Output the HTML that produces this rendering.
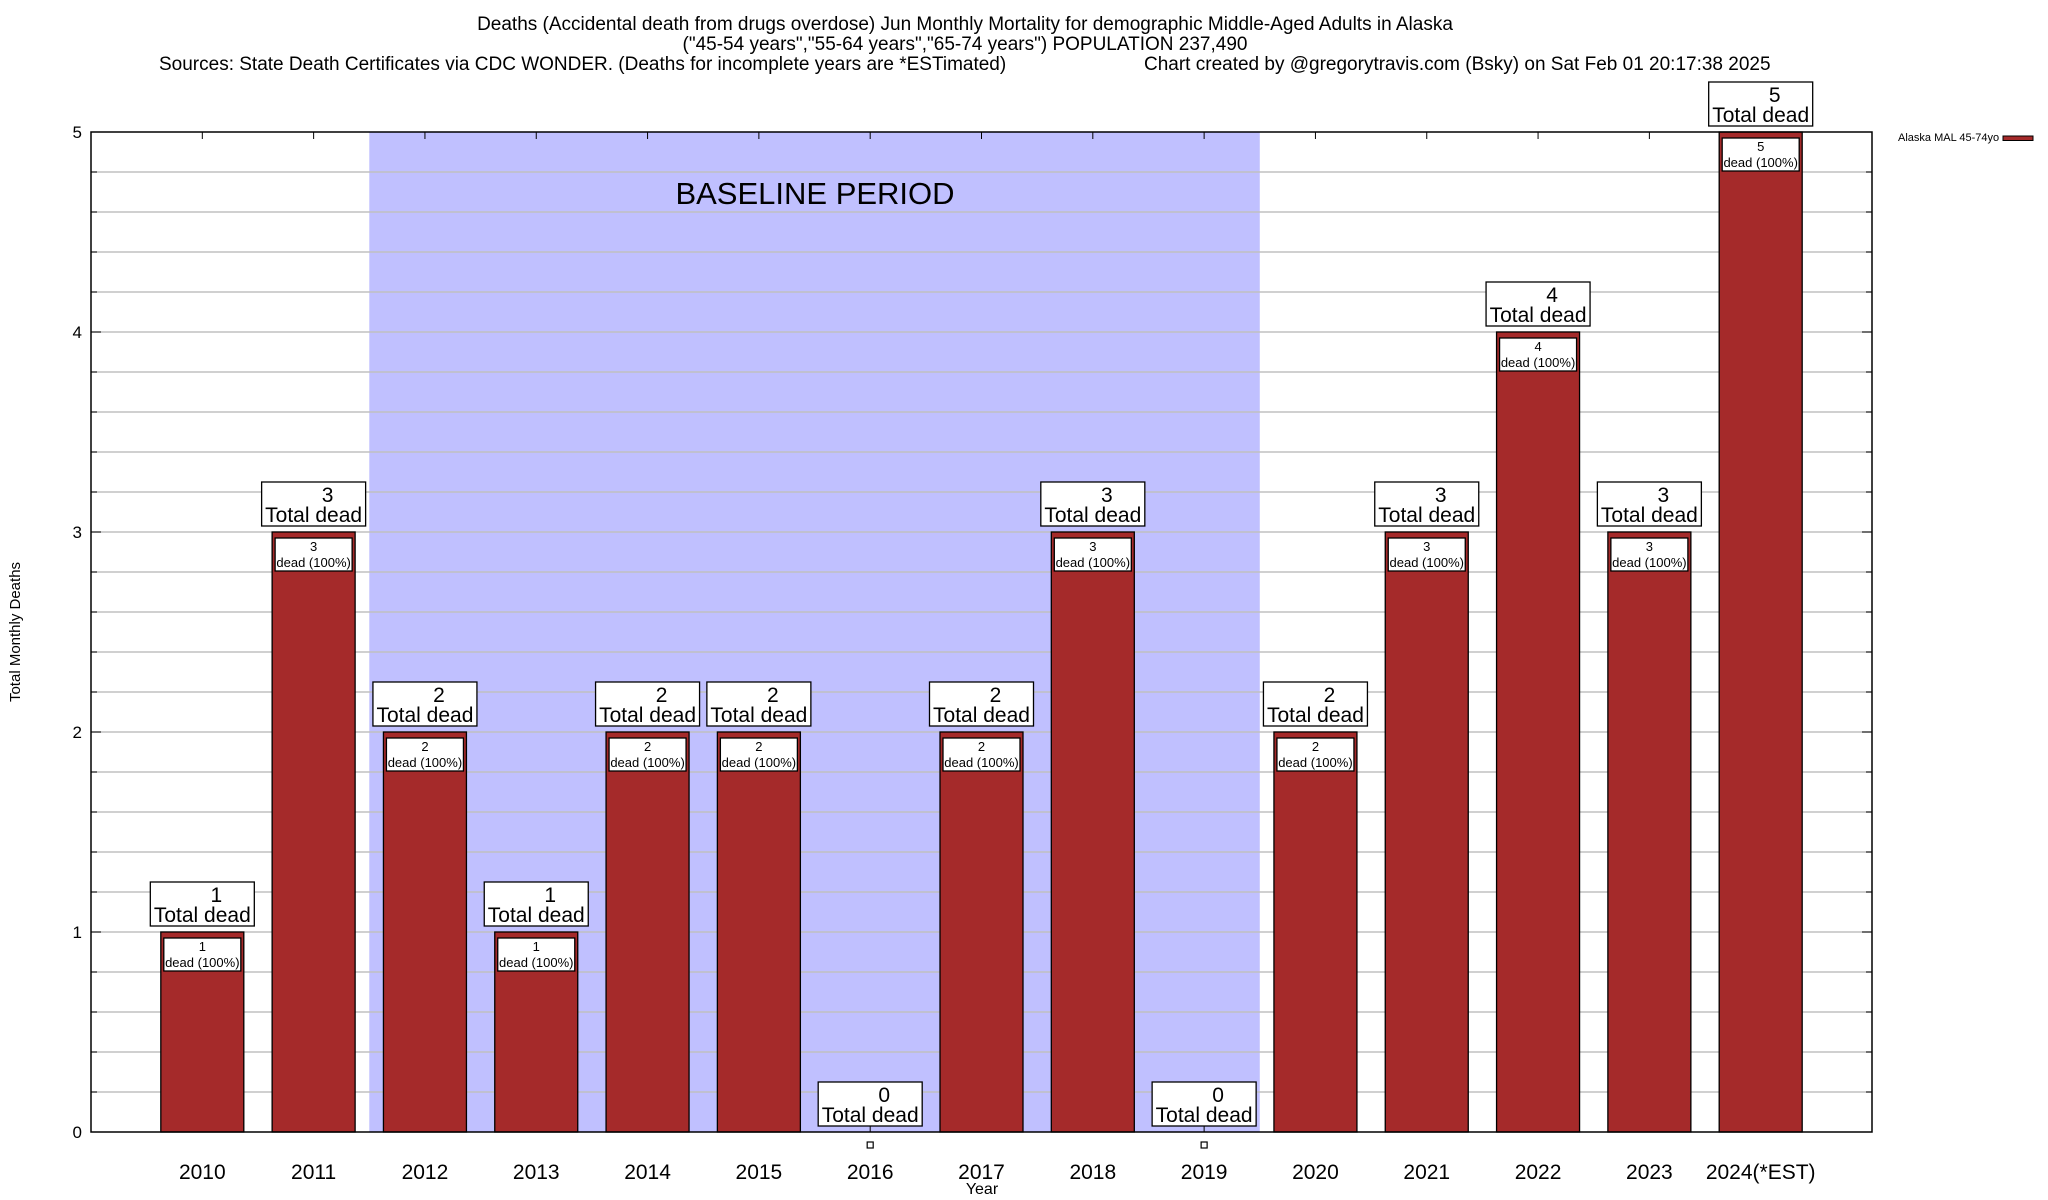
<!DOCTYPE html>
<html><head><meta charset="utf-8"><style>
html,body{margin:0;padding:0;background:#fff;}
svg{display:block;font-family:"Liberation Sans",Arial,sans-serif;}
</style></head><body>
<svg id="chart" width="2048" height="1200" viewBox="0 0 2048 1200">
<g font-size="19" text-anchor="middle" fill="#000">
<text x="965" y="30">Deaths (Accidental death from drugs overdose) Jun Monthly Mortality for demographic Middle-Aged Adults in Alaska</text>
<text x="965" y="50">("45-54 years","55-64 years","65-74 years") POPULATION 237,490</text>
<text x="159" y="70" text-anchor="start">Sources: State Death Certificates via CDC WONDER. (Deaths for incomplete years are *ESTimated)</text>
<text x="1144" y="70" text-anchor="start">Chart created by @gregorytravis.com (Bsky) on Sat Feb 01 20:17:38 2025</text>
</g>
<g id="plot"></g>
<text x="20" y="632" font-size="15" text-anchor="middle" transform="rotate(-90 20 632)">Total Monthly Deaths</text>
<text x="982" y="1194" font-size="16" text-anchor="middle">Year</text>
<g>
<text x="1898" y="141" font-size="11">Alaska MAL 45-74yo</text>
<rect x="2003" y="136" width="30" height="4.5" fill="#a52a2a" stroke="#000" stroke-width="1"/>
</g>
</svg>
<script>
const categories = ["2010","2011","2012","2013","2014","2015","2016","2017","2018","2019","2020","2021","2022","2023","2024(*EST)"];
const deaths = [1,3,2,1,2,2,0,2,3,0,2,3,4,3,5];
const yTicks = [0,1,2,3,4,5];
const baselineRange = [1.5, 9.5];

const L=91,R=1872,T=132,B=1132;
const NS='http://www.w3.org/2000/svg';
const step=(R-L)/(categories.length+1);
function xs(i){return L+(i+1)*step;}
function ys(v){return B-(v/5)*(B-T);}
const plot=document.getElementById('plot');
function mk(tag,attrs,parent){const e=document.createElementNS(NS,tag);for(const k in attrs)e.setAttribute(k,attrs[k]);(parent||plot).appendChild(e);return e;}

const bs=mk('rect',{x:xs(baselineRange[0]),y:T,width:xs(baselineRange[1])-xs(baselineRange[0]),height:B-T,fill:'#c0c0ff'});


for(let v=0.2;v<5;v+=0.2){
  const g=mk('line',{x1:L,x2:R,y1:ys(v),y2:ys(v),stroke:'#c0c0c0','stroke-width':1.5});
  
  
  mk('line',{x1:L,x2:L+6,y1:ys(v),y2:ys(v),stroke:'#000'});
  mk('line',{x1:R,x2:R-6,y1:ys(v),y2:ys(v),stroke:'#000'});
}
const bt=mk('text',{x:815,y:204,'font-size':31,'text-anchor':'middle'});
bt.textContent='BASELINE PERIOD';



yTicks.forEach(v=>{
  const t=mk('text',{x:82,y:ys(v)+6,'font-size':17,'text-anchor':'end'});
  t.textContent=v;
  
  
  mk('line',{x1:L,x2:L+10,y1:ys(v),y2:ys(v),stroke:'#000'});
  mk('line',{x1:R,x2:R-10,y1:ys(v),y2:ys(v),stroke:'#000'});
});

const bw=83;
categories.forEach((c,i)=>{
  const cx=xs(i), v=deaths[i];
  mk('line',{x1:cx,x2:cx,y1:T,y2:T+7,stroke:'#000'});
  mk('line',{x1:cx,x2:cx,y1:B,y2:B-7,stroke:'#000'});
  const lt=mk('text',{x:cx,y:1179,'font-size':21,'text-anchor':'middle'});
  lt.textContent=c;
  
  
  if(v>0){
    const b=mk('rect',{x:cx-bw/2,y:ys(v),width:bw,height:B-ys(v),fill:'#a52a2a',stroke:'#000','stroke-width':1.3});
    
    
    const ib=mk('rect',{x:cx-bw/2+3,y:ys(v)+6,width:bw-6,height:33,fill:'#fff',stroke:'#000','stroke-width':1.3});
    
    
    const t1=mk('text',{x:cx,y:ys(v)+19,'font-size':13,'text-anchor':'middle'});t1.textContent=v;
    
    
    const t2=mk('text',{x:cx,y:ys(v)+35,'font-size':13,'text-anchor':'middle'});t2.textContent='dead (100%)';
    
    
  } else {
    const m=mk('rect',{x:cx-3,y:1142,width:6,height:6,fill:'#fff',stroke:'#000','stroke-width':1.2});
    
    
  }
  const by=ys(v)-50;
  const ob=mk('rect',{x:cx-52,y:by,width:104,height:44,fill:'#fff',stroke:'#000','stroke-width':1.3});
  
  
  const o1=mk('text',{x:cx+14,y:by+20,'font-size':21,'text-anchor':'middle'});o1.textContent=v;
  
  
  const o2=mk('text',{x:cx,y:by+40,'font-size':21,'text-anchor':'middle'});o2.textContent='Total dead';
  
  
});
const fr=mk('rect',{x:L,y:T,width:R-L,height:B-T,fill:'none',stroke:'#000','stroke-width':1.5});


</script>
</body></html>
